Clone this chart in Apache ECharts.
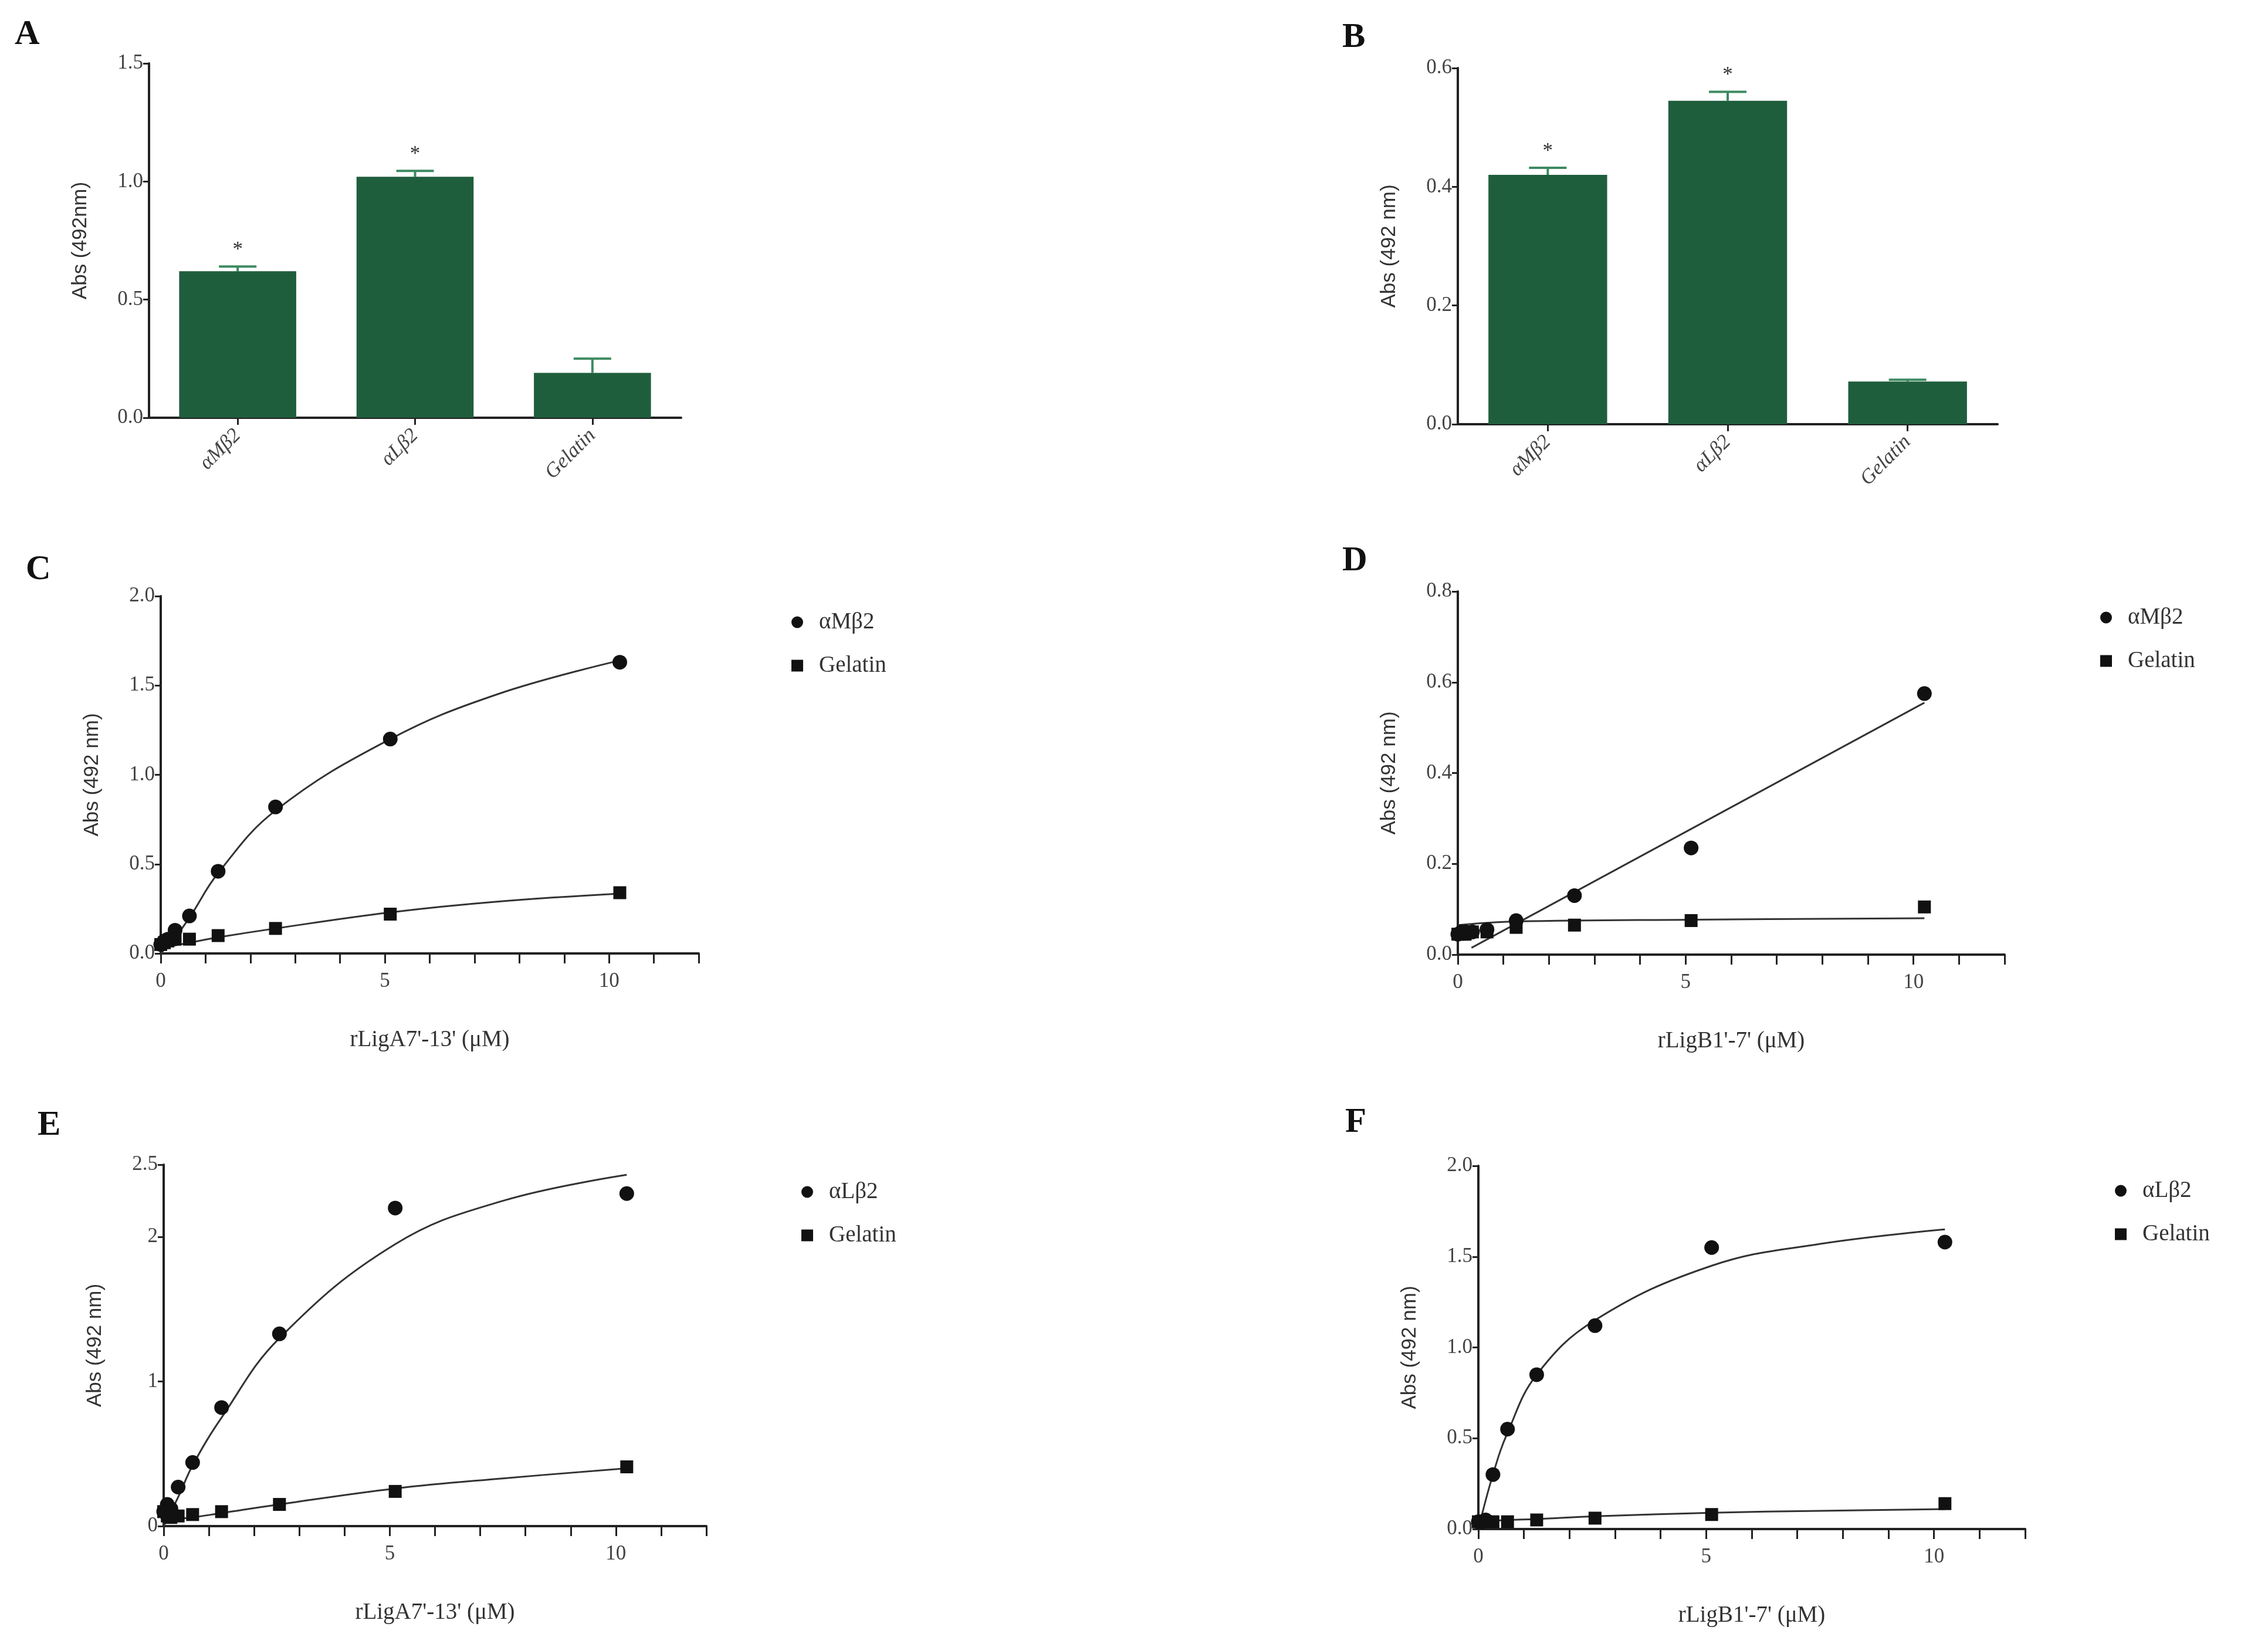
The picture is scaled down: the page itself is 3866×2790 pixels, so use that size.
<!DOCTYPE html>
<html>
<head>
<meta charset="utf-8">
<script src="https://cdn.jsdelivr.net/npm/echarts@6/dist/echarts.min.js"></script>
<style>html,body{margin:0;background:#fff}#main{width:3866px;height:2790px}</style>
</head>
<body>
<div id="main"></div>
<script>
// bar panels
const barCats = ['αMβ2', 'αLβ2', 'Gelatin'];
const barA = [0.62, 1.02, 0.19];
const errA = [0.02, 0.025, 0.06];
const barB = [0.42, 0.545, 0.072];
const errB = [0.012, 0.015, 0.003];
const starsA = ['*', '*', ''];
const starsB = ['*', '*', ''];

// titration points
const conc = [0, 0.08, 0.16, 0.32, 0.64, 1.28, 2.56, 5.12, 10.24];
const cM = [0.05, 0.07, 0.08, 0.13, 0.21, 0.46, 0.82, 1.20, 1.63];
const cG = [0.05, 0.06, 0.07, 0.08, 0.08, 0.10, 0.14, 0.22, 0.34];
const dM = [0.045, 0.05, 0.05, 0.05, 0.055, 0.075, 0.13, 0.235, 0.575];
const dG = [0.045, 0.045, 0.045, 0.05, 0.05, 0.06, 0.065, 0.075, 0.105];
const eL = [0.1, 0.15, 0.12, 0.27, 0.44, 0.82, 1.33, 2.2, 2.3];
const eG = [0.1, 0.07, 0.06, 0.07, 0.08, 0.1, 0.15, 0.24, 0.41];
const fL = [0.04, 0.04, 0.05, 0.3, 0.55, 0.85, 1.12, 1.55, 1.58];
const fG = [0.04, 0.04, 0.04, 0.04, 0.04, 0.05, 0.06, 0.08, 0.14];

// fitted curves
const fitX = [0, 0.32, 0.64, 1.28, 2.56, 5.12, 7.5, 10.24];
const cMfit = [0, 0.09, 0.2, 0.45, 0.8, 1.2, 1.45, 1.64];
const cGfit = [0.03, 0.045, 0.06, 0.09, 0.14, 0.23, 0.29, 0.335];
const dMfitX = [0.3, 10.24];
const dMfit = [0.015, 0.555];
const dGfitX = [0, 1.28, 5.12, 10.24];
const dGfit = [0.065, 0.073, 0.077, 0.08];
const eLfit = [0, 0.2, 0.42, 0.75, 1.3, 1.95, 2.25, 2.43];
const eGfit = [0.04, 0.05, 0.06, 0.09, 0.15, 0.26, 0.33, 0.4];
const fLfit = [0, 0.3, 0.53, 0.85, 1.15, 1.45, 1.57, 1.65];
const fGfit = [0.04, 0.045, 0.05, 0.055, 0.07, 0.09, 0.1, 0.11];

const s = 3866 / 1568;
const px = v => Math.round(v * s);
const green = '#1f5e3d';
const serif = 'Liberation Serif';
const sans = 'Liberation Sans';

function grid(l, t, w, h) {
  return { left: px(l), top: px(t), width: px(w), height: px(h) };
}
const axisLine = { show: true, lineStyle: { color: '#222', width: 4 } };
const tickLbl = { fontFamily: serif, fontSize: px(14), color: '#444' };

function yAxis(gi, max, interval, fmt) {
  return {
    gridIndex: gi, type: 'value', min: 0, max: max, interval: interval,
    axisLine: axisLine, axisTick: { show: true, length: px(4), lineStyle: { width: 3, color: '#222' } },
    splitLine: { show: false },
    axisLabel: Object.assign({ formatter: fmt, margin: px(4) }, tickLbl),
    name: gi === 0 ? 'Abs (492nm)' : 'Abs (492 nm)', nameLocation: 'middle', nameGap: px(40),
    nameTextStyle: { fontFamily: sans, fontSize: px(14), color: '#333' }
  };
}
function xVal(gi, name) {
  return {
    gridIndex: gi, type: 'value', min: 0, max: 12, interval: 1,
    axisLine: axisLine, axisTick: { show: true, length: px(7), lineStyle: { width: 3, color: '#222' } },
    splitLine: { show: false },
    axisLabel: Object.assign({ formatter: v => (v % 5 === 0 ? String(v) : ''), margin: px(12) }, tickLbl),
    name: name, nameLocation: 'middle', nameGap: px(52),
    nameTextStyle: { fontFamily: serif, fontSize: px(16), color: '#333' }
  };
}
function xCat(gi) {
  return {
    gridIndex: gi, type: 'category', data: barCats,
    axisLine: axisLine, axisTick: { show: true, alignWithLabel: true, length: px(5), lineStyle: { width: 3, color: '#222' } },
    axisLabel: Object.assign({ rotate: 45, margin: px(10) }, tickLbl, { fontStyle: 'italic' })
  };
}
const fmt1 = v => v.toFixed(1);

function bars(gi, vals, errs, stars) {
  return [
    { type: 'bar', xAxisIndex: gi, yAxisIndex: gi, data: vals, barCategoryGap: '34%',
      itemStyle: { color: green }, silent: true },
    { type: 'custom', xAxisIndex: gi, yAxisIndex: gi,
      data: vals.map((v, i) => [i, v, errs[i], stars[i]]),
      renderItem: (p, api) => {
        const b = api.coord([api.value(0), api.value(1)]);
        const t = api.coord([api.value(0), api.value(1) + api.value(2)]);
        const hw = px(13);
        const st = { stroke: '#3d8a62', lineWidth: 4 };
        const kids = [
          { type: 'line', shape: { x1: b[0], y1: b[1], x2: t[0], y2: t[1] }, style: st },
          { type: 'line', shape: { x1: t[0] - hw, y1: t[1], x2: t[0] + hw, y2: t[1] }, style: st }
        ];
        kids.push({ type: 'text', style: { text: api.value(3) ? '*' : '', x: t[0], y: t[1] - px(4),
          align: 'center', verticalAlign: 'bottom', font: px(14) + 'px ' + serif, fill: '#333' } });
        return { type: 'group', children: kids };
      } }
  ];
}
function pts(gi, name, ys, sym) {
  return { type: 'scatter', name: name, xAxisIndex: gi, yAxisIndex: gi,
    data: conc.map((x, i) => [x, ys[i]]), symbol: sym, symbolSize: px(sym === 'circle' ? 10 : 9),
    itemStyle: { color: '#111' }, z: 5 };
}
function fit(gi, xs, ys) {
  return { type: 'line', xAxisIndex: gi, yAxisIndex: gi, data: xs.map((x, i) => [x, ys[i]]),
    smooth: 0.4, showSymbol: false, lineStyle: { color: '#333', width: 3 }, silent: true };
}
function legend(gi, l, t, names) {
  return { left: px(l), top: px(t), orient: 'vertical', itemGap: px(14), itemWidth: px(22), itemHeight: px(10),
    data: names.map((n, i) => ({ name: n, icon: i === 0 ? 'circle' : 'rect' })),
    textStyle: { fontFamily: serif, fontSize: px(16), color: '#333' } };
}
// legend items need a line look: use line-type series for names
function legendSeries(gi, name, ys, sym) {
  return { type: 'line', name: name, xAxisIndex: gi, yAxisIndex: gi,
    data: conc.map((x, i) => [x, ys[i]]), symbol: sym, symbolSize: px(sym === 'circle' ? 10 : 9),
    lineStyle: { width: 0, color: '#111' }, itemStyle: { color: '#111' }, z: 5 };
}

const chart = echarts.init(document.getElementById('main'));
chart.setOption({
  backgroundColor: '#fff',
  animation: false,
  grid: [
    grid(103, 44, 368, 245), grid(1008, 47, 373, 246),
    grid(111, 412, 372, 247), grid(1008, 409, 378, 251),
    grid(113, 805, 375, 250), grid(1022, 806, 378, 251)
  ],
  xAxis: [xCat(0), xCat(1), xVal(2, "rLigA7'-13' (μM)"), xVal(3, "rLigB1'-7' (μM)"),
    xVal(4, "rLigA7'-13' (μM)"), xVal(5, "rLigB1'-7' (μM)")],
  yAxis: [yAxis(0, 1.5, 0.5, fmt1), yAxis(1, 0.6, 0.2, fmt1), yAxis(2, 2.0, 0.5, fmt1),
    yAxis(3, 0.8, 0.2, fmt1), yAxis(4, 2.5, 1, v => String(v)), yAxis(5, 2.0, 0.5, fmt1)],
  legend: [
    { left: px(536), top: px(420), orient: 'vertical', itemGap: px(14), itemWidth: px(26), itemHeight: px(10),
      data: ['αMβ2 ', 'Gelatin '], textStyle: { fontFamily: serif, fontSize: px(16), color: '#333' } },
    { left: px(1441), top: px(417), orient: 'vertical', itemGap: px(14), itemWidth: px(26), itemHeight: px(10),
      data: ['αMβ2', 'Gelatin'], textStyle: { fontFamily: serif, fontSize: px(16), color: '#333' } },
    { left: px(543), top: px(814), orient: 'vertical', itemGap: px(14), itemWidth: px(26), itemHeight: px(10),
      data: ['αLβ2 ', 'Gelatin  '], textStyle: { fontFamily: serif, fontSize: px(16), color: '#333' } },
    { left: px(1451), top: px(813), orient: 'vertical', itemGap: px(14), itemWidth: px(26), itemHeight: px(10),
      data: ['αLβ2', 'Gelatin   '], textStyle: { fontFamily: serif, fontSize: px(16), color: '#333' } }
  ],
  series: [].concat(
    bars(0, barA, errA, starsA), bars(1, barB, errB, starsB),
    fit(2, fitX, cMfit), fit(2, fitX, cGfit),
    legendSeries(2, 'αMβ2 ', cM, 'circle'), legendSeries(2, 'Gelatin ', cG, 'rect'),
    fit(3, dMfitX, dMfit), fit(3, dGfitX, dGfit),
    legendSeries(3, 'αMβ2', dM, 'circle'), legendSeries(3, 'Gelatin', dG, 'rect'),
    fit(4, fitX, eLfit), fit(4, fitX, eGfit),
    legendSeries(4, 'αLβ2 ', eL, 'circle'), legendSeries(4, 'Gelatin  ', eG, 'rect'),
    fit(5, fitX, fLfit), fit(5, fitX, fGfit),
    legendSeries(5, 'αLβ2', fL, 'circle'), legendSeries(5, 'Gelatin   ', fG, 'rect')
  ),
  graphic: [
    ['A', 10, 12], ['B', 928, 14], ['C', 18, 382], ['D', 928, 376], ['E', 26, 766], ['F', 930, 764]
  ].map(a => ({ type: 'text', left: px(a[1]), top: px(a[2]),
    style: { text: a[0], font: 'bold ' + px(24) + 'px ' + serif, fill: '#111' } }))
});
</script>
</body>
</html>
